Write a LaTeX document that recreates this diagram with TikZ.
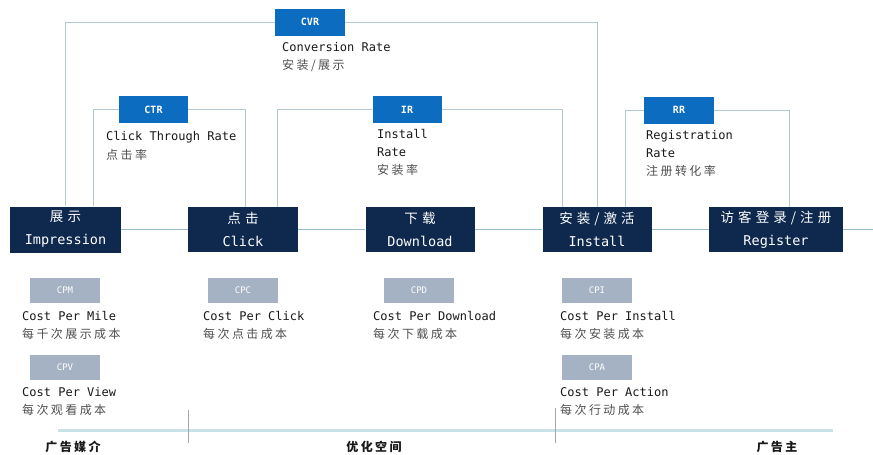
\documentclass[tikz,border=0pt]{standalone}
\usepackage{fontspec}
\setmainfont{DejaVu Sans Mono}
\newfontfamily\cjk[LetterSpace=20]{Noto Sans CJK SC}
\newfontfamily\cjkwide[LetterSpace=30]{Noto Sans CJK SC}
\definecolor{navy}{RGB}{14,40,78}
\definecolor{rateblue}{RGB}{12,108,192}
\definecolor{costgray}{RGB}{165,178,195}
\definecolor{flowline}{RGB}{150,188,205}
\definecolor{linkline}{RGB}{180,200,208}
\definecolor{baseline}{RGB}{200,226,232}
\definecolor{txt}{RGB}{25,25,25}
\definecolor{cjktxt}{RGB}{80,80,80}
\begin{document}
\begin{tikzpicture}[x=1pt,y=-1pt,
  stage/.style={fill=navy, text=white, minimum height=45pt, inner sep=0pt, align=center, font=\fontsize{13.5}{23}\selectfont},
  ratebox/.style={fill=rateblue, text=white, minimum width=70pt, minimum height=27pt, inner sep=0pt, font=\fontsize{10}{12}\selectfont\bfseries},
  costbox/.style={fill=costgray, text=white, minimum width=70pt, minimum height=25pt, inner sep=0pt, font=\fontsize{9}{12}\selectfont},
  desc/.style={anchor=north west, inner sep=0pt, align=left, text=txt, font=\fontsize{12}{18}\selectfont},
  flow/.style={draw=flowline, line width=1.3pt},
  link/.style={draw=linkline, line width=1pt},
  zone/.style={text=txt, inner sep=0pt, font=\cjk\bfseries\fontsize{12}{14}\selectfont}
]
\useasboundingbox (0,0) rectangle (873,455);
\fill[white] (0,0) rectangle (873,455);

% stages
\node[stage, minimum width=111pt, minimum height=46pt] (imp) at (65.5,229.5) {{\cjkwide 展示}\\Impression};
\node[stage, minimum width=110pt] (clk) at (243,229.5) {{\cjkwide 点击}\\Click};
\node[stage, minimum width=109pt] (dl)  at (420,229.5) {{\cjkwide 下载}\\Download};
\node[stage, minimum width=109pt] (ins) at (597,229.5) {{\cjkwide 安装/激活}\\Install};
\node[stage, minimum width=134pt] (reg) at (776,229.5) {{\cjkwide 访客登录/注册}\\Register};
\coordinate (flowend) at (873,229.5);

\draw[flow] (imp.east) -- (clk.west);
\draw[flow] (clk.east) -- (dl.west);
\draw[flow] (dl.east) -- (ins.west);
\draw[flow] (ins.east) -- (reg.west);
\draw[flow] (reg.east) -- (flowend);

% rate boxes
\node[ratebox] (cvr) at (310,22) {CVR};
\node[ratebox, minimum width=69pt] (ctr) at (153.5,109.5) {CTR};
\node[ratebox, minimum width=69pt] (ir)  at (407,109.5) {IR};
\node[ratebox] (rr)  at (679,110) {RR};

\draw[link] (cvr.west) -| (imp.north);
\draw[link] (cvr.east) -| (ins.north);
\draw[link] (ctr.west) -| ([xshift=28]imp.north);
\draw[link] (ctr.east) -| ([xshift=2]clk.north);
\draw[link] (ir.west) -| ([xshift=34]clk.north);
\draw[link] (ir.east) -| ([xshift=-35]ins.north);
\draw[link] (rr.west) -| ([xshift=28]ins.north);
\draw[link] (rr.east) -| ([xshift=13]reg.north);

% rate descriptions
\node[desc] (cvrt) at (282,42.5) {Conversion Rate\\{\cjk\color{cjktxt}安装/展示}};
\node[desc] (ctrt) at (106,131.5) {Click Through Rate\\[1pt]{\cjk\color{cjktxt}点击率}};
\node[desc] (irt)  at (377,129.5) {Install\\Rate\\{\cjk\color{cjktxt}安装率}};
\node[desc] (rrt)  at (646,130.5) {Registration\\Rate\\{\cjk\color{cjktxt}注册转化率}};

% cost boxes
\node[costbox] (cpm) at (65,290.5) {CPM};
\node[costbox] (cpv) at (65,367.5) {CPV};
\node[costbox] (cpc) at (243,290.5) {CPC};
\node[costbox] (cpd) at (419,290) {CPD};
\node[costbox] (cpi) at (597,290.5) {CPI};
\node[costbox] (cpa) at (597,367.5) {CPA};

\node[desc] (cpmt) at (22,311.5) {Cost Per Mile\\{\cjk\color{cjktxt}每千次展示成本}};
\node[desc] (cpvt) at (22,387.5) {Cost Per View\\{\cjk\color{cjktxt}每次观看成本}};
\node[desc] (cpct) at (203,311.5) {Cost Per Click\\{\cjk\color{cjktxt}每次点击成本}};
\node[desc] (cpdt) at (373,311.5) {Cost Per Download\\{\cjk\color{cjktxt}每次下载成本}};
\node[desc] (cpit) at (560,311.5) {Cost Per Install\\{\cjk\color{cjktxt}每次安装成本}};
\node[desc] (cpat) at (560,387.5) {Cost Per Action\\{\cjk\color{cjktxt}每次行动成本}};

% bottom axis
\draw[draw=baseline, line width=3pt] (58,430) -- (833,430);
\draw[draw=gray!70, line width=0.8pt] (188,410) -- (188,443);
\draw[draw=gray!70, line width=0.8pt] (555,408) -- (555,443);
\node[zone] (z1) at (73,447) {广告媒介};
\node[zone] (z2) at (374,447) {优化空间};
\node[zone] (z3) at (777,447) {广告主};
\end{tikzpicture}
\end{document}
